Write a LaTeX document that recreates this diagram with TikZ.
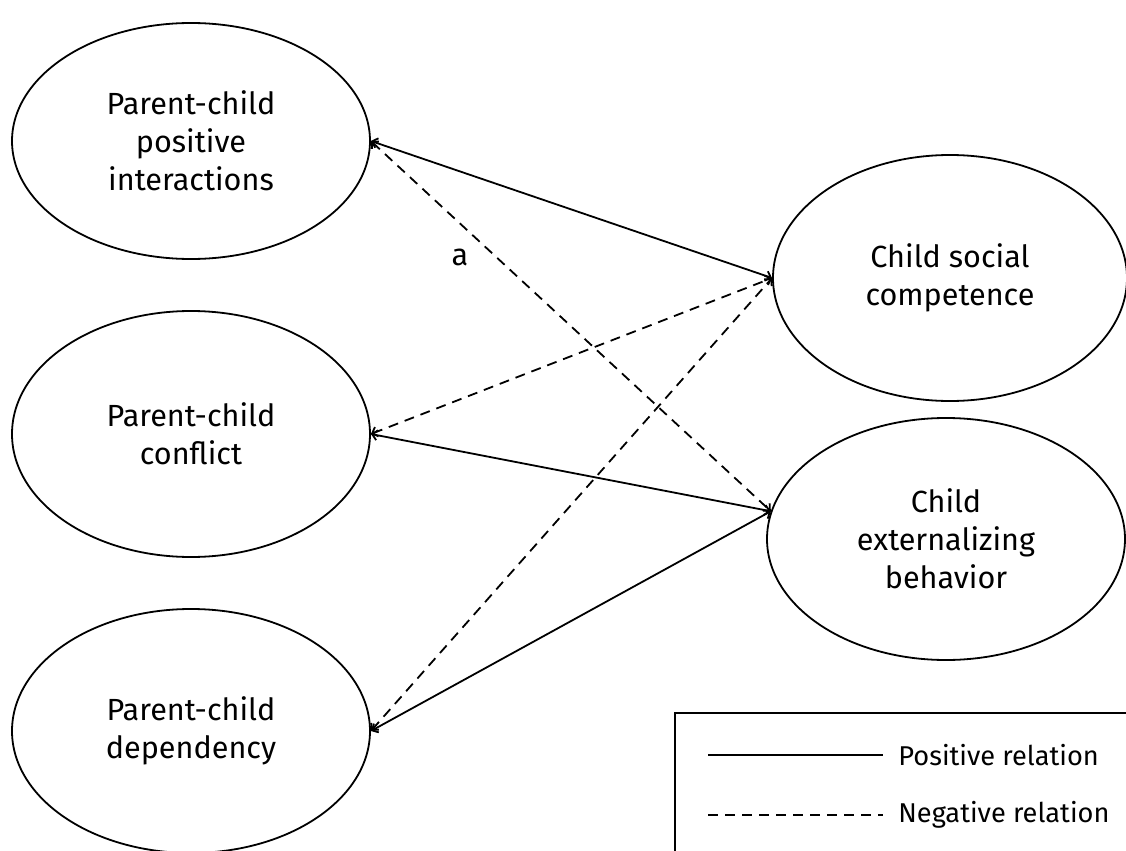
\documentclass[tikz,border=0pt]{standalone}
\usepackage{fontspec}
\setmainfont{Fira Sans}
\usetikzlibrary{shapes.geometric,arrows.meta,positioning}

\tikzset{
  construct/.style={ellipse, draw, line width=0.9pt, inner sep=0pt,
    minimum width=179pt, minimum height=121pt, align=center,
    font=\fontsize{15.3}{19}\selectfont},
  relpos/.style={line width=0.9pt,
    {Straight Barb[length=2.5pt,width=5pt]}-{Straight Barb[length=2.5pt,width=5pt]}},
  relneg/.style={relpos, dash pattern=on 5pt off 3.5pt},
  legtext/.style={anchor=west, inner sep=0pt, font=\fontsize{13.6}{17}\selectfont},
}

\begin{document}
\begin{tikzpicture}[x=0.5pt, y=-0.5pt]
    \useasboundingbox (0,0) rectangle (1126,851);
    \clip (0,0) rectangle (1126,851);
    % Predictors
    \node[construct, minimum height=118pt] (pcpi) at (191,141) {Parent-child\\positive\\interactions};
    \node[construct, minimum height=123pt] (conf) at (191,434) {Parent-child\\conflict};
    \node[construct, minimum height=122pt] (dep) at (191,731) {Parent-child\\dependency};
    % Outcomes
    \node[construct, minimum width=177pt, minimum height=123pt] (soc) at (950,278) {Child social\\competence};
    \node[construct, minimum height=121pt] (ext) at (946,539) {Child\\externalizing\\behavior};
    % Paths
    \draw[relpos] (pcpi.east) -- (soc.west);
    \draw[relneg] (pcpi.east) -- (ext.171);
    \draw[relneg] (conf.east) -- (soc.west);
    \draw[relpos] (conf.east) -- (ext.171);
    \draw[relneg] (dep.east) -- (soc.west);
    \draw[relpos] (dep.east) -- (ext.171);
    \node[font=\fontsize{15.3}{17}\selectfont] (lab-a) at (460,257) {a};
    % Legend
    \draw[line width=0.9pt] (675,880) -- (675,713) -- (1140,713);
    \coordinate (solidL) at (708,755);
    \coordinate (solidR) at (883,755);
    \coordinate (dashL) at (708,815);
    \coordinate (dashR) at (883,815);
    \draw[line width=0.9pt] (solidL) -- (solidR);
    \draw[line width=0.9pt, dash pattern=on 5pt off 3.5pt] (dashL) -- (dashR);
    \node[legtext] (leg-pos) at (898,755) {Positive relation};
    \node[legtext] (leg-neg) at (898,815) {Negative relation};
\end{tikzpicture}
\end{document}
